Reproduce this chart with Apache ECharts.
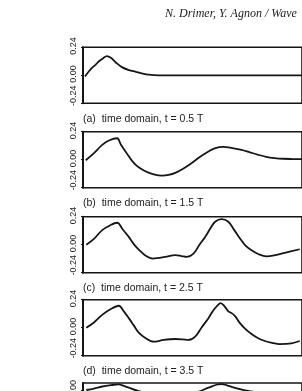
<!DOCTYPE html>
<html><head><meta charset="utf-8">
<script src="https://cdn.jsdelivr.net/npm/echarts@6/dist/echarts.min.js"></script>
<style>html,body{margin:0;padding:0;background:#fff}#c{width:302px;height:391px}</style>
</head><body><div id="c"></div>
<script>
// Panel labels
const panelLabels = ['(a)  time domain, t = 0.5 T', '(b)  time domain, t = 1.5 T', '(c)  time domain, t = 2.5 T', '(d)  time domain, t = 3.5 T', ''];
const yTicks = [-0.24, 0.00, 0.24];
// x positions (arbitrary distance units) and elevations for each panel
const xA = [0.2,0.6,0.93,1.3,1.6,2.0,2.4,2.8,3.3,3.9,4.6,5.3,6.0,6.6,7.6,9,11,13,15,17,19,21,22.5];
const yA = [-0.01,0.035,0.066,0.094,0.12,0.145,0.165,0.15,0.11,0.07,0.045,0.03,0.015,0.006,0,0,0,0,0,0,0,0,0];
const xB = [0.27,1.1,1.93,2.6,3.43,3.8,4.27,5.27,6.27,7.1,7.93,8.6,9.27,10.1,10.93,11.77,12.6,13.3,14.1,15.0,15.93,16.77,17.6,18.4,19.27,20.1,20.93,22.1];
const yB = [-0.005,0.057,0.127,0.165,0.184,0.13,0.07,-0.042,-0.099,-0.125,-0.136,-0.13,-0.113,-0.075,-0.028,0.025,0.07,0.1,0.11,0.1,0.085,0.063,0.042,0.025,0.014,0.008,0.006,0.005];
const xC = [0.33,1.1,1.93,2.7,3.43,4.0,4.6,5.1,5.6,6.3,7.03,7.6,8.27,9.27,9.9,10.43,11.1,11.7,12.27,12.8,13.27,13.93,14.6,15.2,15.77,16.3,16.93,17.6,18.43,19.3,20.27,21.77];
const yC = [0,0.05,0.125,0.165,0.188,0.13,0.067,0.005,-0.042,-0.095,-0.12,-0.113,-0.105,-0.09,-0.097,-0.105,-0.076,0,0.067,0.14,0.197,0.22,0.197,0.125,0.053,-0.005,-0.048,-0.08,-0.1,-0.09,-0.07,-0.039];
const xD = [0.33,1.1,1.93,2.8,3.6,4.1,4.6,5.1,5.6,6.3,7.1,8.1,9.27,10.0,10.6,11.27,11.9,12.6,13.1,13.43,13.83,14.2,14.6,14.93,15.3,15.77,16.3,16.93,17.6,18.27,19.0,19.77,20.93,21.77];
const yD = [0,0.045,0.11,0.16,0.188,0.14,0.082,0.02,-0.042,-0.09,-0.12,-0.105,-0.097,-0.1,-0.105,-0.076,0,0.082,0.15,0.183,0.21,0.185,0.14,0.125,0.097,0.039,-0.01,-0.054,-0.09,-0.114,-0.13,-0.14,-0.134,-0.114];
const xE = [0.33,1.1,1.93,2.8,3.6,4.1,4.6,5.6,7.1,9.3,11.3,12.6,13.4,13.9,14.4,15.0,16.3,18.3,20.9,22.0];
const yE = [0,0.05,0.12,0.165,0.19,0.14,0.08,-0.04,-0.12,-0.1,-0.08,0.08,0.18,0.2,0.17,0.1,-0.01,-0.11,-0.13,-0.12];

const series = [[xA,yA],[xB,yB],[xC,yC],[xD,yD],[xE,yE]];
const gridTops = [47.3, 131.7, 216.7, 299.7, 383];
const gridH = 56;

const grids = [], xAxes = [], yAxes = [], ser = [], titles = [];
series.forEach((s, i) => {
  grids.push({left: 83, right: -2, top: gridTops[i], height: gridH, show: true, borderColor: '#151515', borderWidth: 1.6, backgroundColor: 'transparent'});
  xAxes.push({type: 'value', gridIndex: i, min: 0, max: 22, show: false});
  yAxes.push({type: 'value', gridIndex: i, min: yTicks[0], max: yTicks[2], interval: 0.24,
    axisLine: {show: true, onZero: false, lineStyle: {color: '#151515', width: 2}},
    axisTick: {show: true, length: 2, lineStyle: {color: '#151515', width: 1.2}},
    splitLine: {show: false},
    axisLabel: {rotate: 90, align: 'center', verticalAlign: 'bottom', margin: 5, fontSize: 9,
      fontFamily: 'Liberation Sans', color: '#222',
      formatter: v => (v < -0.1 ? '      ' : ' ') + v.toFixed(2)}
  });
  ser.push({type: 'line', xAxisIndex: i, yAxisIndex: i, data: s[0].map((x, k) => [x, s[1][k]]),
    smooth: 0.35, showSymbol: false, symbol: 'none', lineStyle: {color: '#161616', width: 1.8}, clip: true, animation: false});
  if (panelLabels[i]) titles.push({text: panelLabels[i], left: 83, top: gridTops[i] + gridH + 10, padding: 0,
    textStyle: {fontSize: 10.5, fontWeight: 'normal', fontFamily: 'Liberation Sans', color: '#222'}});
});
titles.push({text: 'N. Drimer, Y. Agnon / Wave', left: 165, top: 8, padding: 0,
  textStyle: {fontSize: 12, fontStyle: 'italic', fontWeight: 'normal', fontFamily: 'Liberation Serif', color: '#222'}});

const chart = echarts.init(document.getElementById('c'), null, {renderer: 'canvas'});
chart.setOption({animation: false, backgroundColor: '#fff', title: titles, grid: grids, xAxis: xAxes, yAxis: yAxes, series: ser});
</script></body></html>
